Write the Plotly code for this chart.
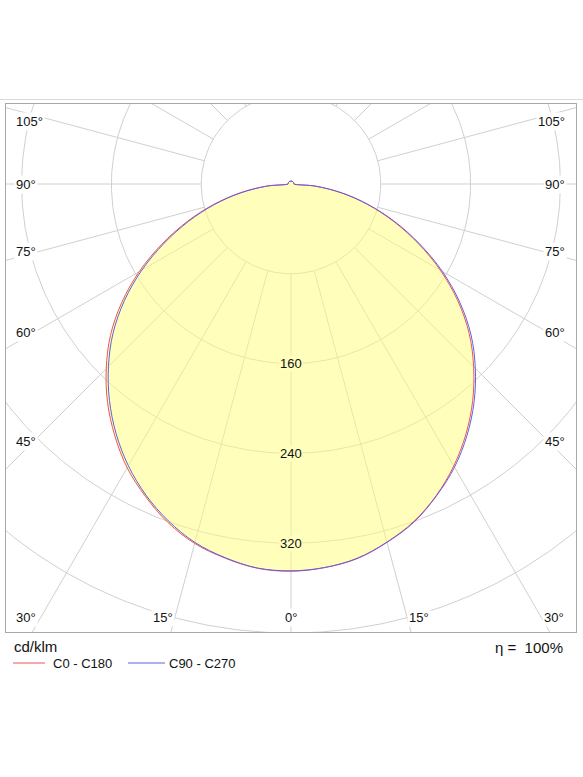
import numpy as np
import plotly.graph_objects as go

# ---------------- data (cd/klm) ----------------
angles = [0, 5, 10, 15, 20, 25, 30, 35, 40, 45, 50, 55, 60, 65, 70, 75, 80, 85, 90,
          100, 120, 140, 160, 180]
c0   = [345.0, 343.0, 338.6, 330.2, 319.9, 306.2, 290.0, 271.8, 251.8, 230.1, 207.2, 181.4,
        153.6, 124.8, 97.1, 70.7, 45.6, 21.5, 2.6, 2.6, 2.6, 2.6, 2.6, 2.6]
c180 = [345.0, 343.6, 338.4, 331.5, 320.8, 307.0, 291.9, 273.7, 254.2, 232.8, 210.0, 184.1,
        156.2, 127.1, 99.0, 72.2, 46.6, 22.0, 2.6, 2.6, 2.6, 2.6, 2.6, 2.6]
c90  = [344.8, 343.0, 338.9, 330.5, 320.5, 306.6, 291.3, 273.4, 253.7, 232.2, 209.4, 183.5,
        155.6, 126.5, 98.6, 71.8, 46.4, 21.9, 2.6, 2.6, 2.6, 2.6, 2.6, 2.6]
c270 = [344.6, 343.4, 338.0, 330.6, 319.4, 305.8, 289.8, 271.6, 251.6, 230.0, 207.0, 181.2,
        153.4, 124.6, 97.0, 70.6, 45.5, 21.4, 2.6, 2.6, 2.6, 2.6, 2.6, 2.6]

ring_values = [80, 160, 240, 320, 400]
ring_labels = ["160", "240", "320"]
spoke_angles = list(range(0, 360, 15))
side_labels = ["105°", "90°", "75°", "60°", "45°"]
bottom_labels = ["30°", "15°", "0°", "15°", "30°"]
series_names = ["C0 - C180", "C90 - C270"]
unit_label = "cd/klm"
eta_label = "η =  100%"

# ---------------- geometry helpers ----------------
def closed_curve(right, left):
    a = np.array(angles, dtype=float)
    th = np.concatenate([-a[::-1], a[1:]])
    r = np.concatenate([np.array(left)[::-1], np.array(right)[1:]])
    t = np.radians(th)
    return r * np.sin(t), -r * np.cos(t)

FONT = "Liberation Sans, Arial, sans-serif"
GRID = "#D0D0D0"
RED = "rgb(238,85,85)"
BLUE = "rgb(95,95,230)"

fig = go.Figure()

# rings
for rv in ring_values:
    t = np.radians(np.linspace(0, 360, 721))
    fig.add_trace(go.Scatter(x=rv * np.sin(t), y=-rv * np.cos(t), mode="lines",
                             line=dict(color=GRID, width=1), hoverinfo="skip",
                             showlegend=False))
# spokes
sx, sy = [], []
for a in spoke_angles:
    t = np.radians(a)
    sx += [80 * np.sin(t), 800 * np.sin(t), None]
    sy += [-80 * np.cos(t), -800 * np.cos(t), None]
fig.add_trace(go.Scatter(x=sx, y=sy, mode="lines", line=dict(color=GRID, width=1),
                         hoverinfo="skip", showlegend=False))

# fill
fx, fy = closed_curve(c0, c180)
fig.add_trace(go.Scatter(x=fx, y=fy, mode="lines", fill="toself",
                         fillcolor="rgba(255,255,120,0.5)",
                         line=dict(width=0, shape="spline", smoothing=1.0),
                         hoverinfo="skip", showlegend=False))
# curves
fig.add_trace(go.Scatter(x=fx, y=fy, mode="lines",
                         line=dict(color=RED, width=1, shape="spline", smoothing=1.0),
                         name=series_names[0], showlegend=False))
bx, by = closed_curve(c90, c270)
fig.add_trace(go.Scatter(x=bx, y=by, mode="lines",
                         line=dict(color=BLUE, width=1, shape="spline", smoothing=1.0),
                         name=series_names[1], showlegend=False))

# ---------------- layout mapping ----------------
W, H = 583, 777
L, R, T, B = 6, 576, 104, 632          # plot frame in pixels
CX, CY = 291, 184                      # pole in pixels
S = (B - CY) / 399.1                   # pixels per cd/klm

def dx(px):
    return (px - CX) / S

def dy(py):
    return (CY - py) / S

def paper_x(px):
    return (px - L) / (R - L)

def paper_y(py):
    return (B - py) / (B - T)

ann = []
# radial value labels
for lab in ring_labels:
    v = float(lab)
    ann.append(dict(x=0, y=-v, text=lab, showarrow=False, xanchor="center", yanchor="middle",
                    font=dict(family=FONT, size=13, color="#111"),
                    bgcolor="rgb(255,255,190)", borderpad=0))
# side labels
side_y = [121, 184, 251, 332, 441]
for lab, py in zip(side_labels, side_y):
    ann.append(dict(x=dx(14), y=dy(py), text=lab, showarrow=False, xanchor="left",
                    yanchor="middle", font=dict(family=FONT, size=13, color="#111"),
                    bgcolor="white", borderpad=1))
    ann.append(dict(x=dx(567), y=dy(py), text=lab, showarrow=False, xanchor="right",
                    yanchor="middle", font=dict(family=FONT, size=13, color="#111"),
                    bgcolor="white", borderpad=1))
bottom_x = [26, 163, 291, 419, 554]
for lab, px in zip(bottom_labels, bottom_x):
    ann.append(dict(x=dx(px), y=dy(617), text=lab, showarrow=False, xanchor="center",
                    yanchor="middle", font=dict(family=FONT, size=13, color="#111"),
                    bgcolor="white", borderpad=1))

# bottom texts / legend
ann.append(dict(xref="paper", yref="paper", x=paper_x(12), y=paper_y(646), text=unit_label,
                showarrow=False, xanchor="left", yanchor="middle",
                font=dict(family=FONT, size=15, color="#111")))
ann.append(dict(xref="paper", yref="paper", x=paper_x(565), y=paper_y(647), text=eta_label,
                showarrow=False, xanchor="right", yanchor="middle",
                font=dict(family=FONT, size=15, color="#111")))
ann.append(dict(xref="paper", yref="paper", x=paper_x(51), y=paper_y(663), text=series_names[0],
                showarrow=False, xanchor="left", yanchor="middle",
                font=dict(family=FONT, size=13, color="#111")))
ann.append(dict(xref="paper", yref="paper", x=paper_x(167), y=paper_y(663), text=series_names[1],
                showarrow=False, xanchor="left", yanchor="middle",
                font=dict(family=FONT, size=13, color="#111")))

shapes = [
    dict(type="line", xref="paper", yref="paper", x0=paper_x(0), x1=paper_x(583),
         y0=paper_y(99.5), y1=paper_y(99.5), line=dict(color="#DADADA", width=1)),
    dict(type="line", xref="paper", yref="paper", x0=paper_x(13), x1=paper_x(45),
         y0=paper_y(663), y1=paper_y(663), line=dict(color=RED, width=1)),
    dict(type="line", xref="paper", yref="paper", x0=paper_x(128), x1=paper_x(165),
         y0=paper_y(663), y1=paper_y(663), line=dict(color=BLUE, width=1)),
]

axis_common = dict(showgrid=False, zeroline=False, showticklabels=False, ticks="",
                   showline=True, linecolor="#A8A8A8", linewidth=1, mirror=True)

fig.update_layout(
    width=W, height=H,
    margin=dict(l=L, r=W - R, t=T, b=H - B, pad=0),
    paper_bgcolor="white", plot_bgcolor="white",
    xaxis=dict(range=[dx(L), dx(R)], **axis_common),
    yaxis=dict(range=[dy(B), dy(T)], **axis_common),
    annotations=ann, shapes=shapes, showlegend=False,
)

fig.write_html("out.html")
